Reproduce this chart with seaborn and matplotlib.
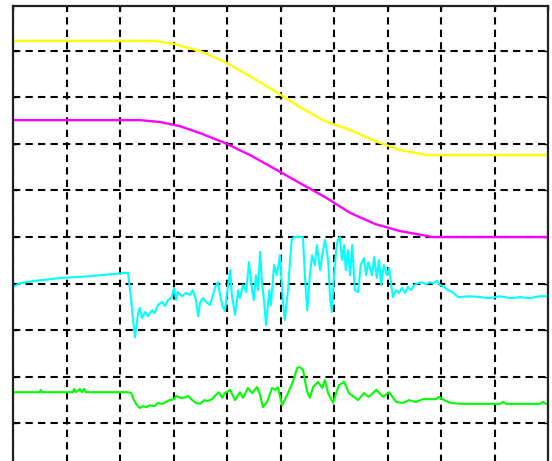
import numpy as np
import pandas as pd
import matplotlib
matplotlib.use("Agg")
import matplotlib.pyplot as plt
import seaborn as sns

# readings in screen divisions (x: 0..10, y: -5..5)
yellow_x = [0, 2.65, 3.03, 3.50, 3.96, 4.43, 4.90, 5.36, 5.83, 6.30, 6.77, 7.23, 7.74, 10.0]
yellow_y = [4.21, 4.21, 4.14, 3.99, 3.76, 3.45, 3.13, 2.79, 2.49, 2.30, 2.06, 1.87, 1.76, 1.76]

magenta_x = [0, 2.37, 2.75, 3.12, 3.50, 3.96, 4.43, 4.90, 5.36, 5.83, 6.30, 6.77, 7.23, 7.85, 10.0]
magenta_y = [2.51, 2.51, 2.47, 2.38, 2.23, 2.02, 1.76, 1.46, 1.16, 0.86, 0.52, 0.28, 0.13, 0.0, 0.0]

cyan_x = [0, 0.13, 0.41, 0.88, 1.44, 2.09, 2.15, 2.21, 2.24, 2.28, 2.34, 2.37, 2.41, 2.47,
          2.52, 2.60, 2.65, 2.71, 2.79, 2.84, 2.90, 2.97, 3.01, 3.05, 3.08, 3.16, 3.23, 3.31,
          3.36, 3.42, 3.46, 3.50, 3.55, 3.61, 3.68, 3.74, 3.78, 3.83, 3.87, 3.91, 3.96, 4.02,
          4.06, 4.09, 4.15, 4.21, 4.24, 4.30, 4.36, 4.41, 4.47, 4.50, 4.54, 4.58, 4.62, 4.65,
          4.69, 4.73, 4.79, 4.82, 4.88, 4.93, 4.99, 5.05, 5.08, 5.14, 5.18, 5.21, 5.25, 5.42,
          5.46, 5.50, 5.55, 5.59, 5.64, 5.68, 5.74, 5.78, 5.83, 5.89, 5.93, 5.96, 6.00, 6.04,
          6.07, 6.11, 6.15, 6.19, 6.22, 6.26, 6.30, 6.34, 6.39, 6.45, 6.50, 6.56, 6.60, 6.64,
          6.71, 6.75, 6.80, 6.84, 6.88, 6.93, 6.99, 7.03, 7.07, 7.10, 7.16, 7.21, 7.27, 7.33,
          7.38, 7.44, 7.50, 7.57, 7.64, 7.72, 7.79, 7.85, 7.93, 7.98, 8.06, 8.13, 8.21, 8.32,
          8.54, 8.92, 9.10, 9.29, 9.48, 9.66, 9.85, 10.0]
cyan_y = [-1.07, -0.99, -0.94, -0.88, -0.84, -0.77, -0.77, -1.35, -1.74, -2.15, -1.61, -1.52,
          -1.74, -1.61, -1.70, -1.57, -1.63, -1.46, -1.39, -1.48, -1.35, -1.29, -1.09, -1.35,
          -1.18, -1.27, -1.20, -1.24, -1.14, -1.35, -1.70, -1.39, -1.31, -1.39, -1.46, -1.24,
          -1.07, -0.97, -1.24, -1.46, -1.59, -1.03, -0.71, -1.24, -1.67, -1.14, -1.31, -1.03,
          -1.18, -0.54, -1.14, -1.35, -0.82, -1.14, -0.32, -0.92, -1.35, -1.89, -1.14, -1.46,
          -0.60, -0.82, -0.39, -1.46, -1.78, -1.14, -0.49, -0.06, 0.00, 0.00, -0.92, -1.57,
          -0.82, -0.39, -0.60, -0.17, -0.71, -0.39, -0.06, -0.49, -1.35, -1.61, -0.82, -0.28,
          -0.06, 0.00, -0.49, -0.17, -0.71, -0.28, -0.82, -0.17, -1.14, -1.18, -0.60, -0.45,
          -0.82, -0.54, -0.82, -0.43, -0.88, -0.49, -1.03, -0.60, -0.82, -0.67, -1.03, -1.29,
          -1.14, -1.20, -1.09, -1.20, -1.07, -1.14, -1.03, -0.99, -0.97, -1.01, -0.97, -0.99,
          -0.94, -1.03, -1.07, -1.14, -1.18, -1.29, -1.27, -1.31, -1.27, -1.31, -1.29, -1.31,
          -1.27, -1.27]

green_x = [0, 0.50, 0.52, 0.54, 1.12, 1.14, 1.18, 1.25, 1.29, 1.33, 1.36, 2.15, 2.21, 2.26,
           2.32, 2.37, 2.43, 2.49, 2.56, 2.64, 2.71, 2.79, 2.86, 2.93, 3.01, 3.05, 3.12, 3.20,
           3.27, 3.35, 3.42, 3.50, 3.57, 3.64, 3.72, 3.79, 3.85, 3.91, 3.96, 4.06, 4.15, 4.24,
           4.30, 4.39, 4.47, 4.56, 4.62, 4.67, 4.75, 4.84, 4.90, 4.95, 5.03, 5.14, 5.23, 5.31,
           5.36, 5.42, 5.50, 5.55, 5.61, 5.70, 5.78, 5.83, 5.89, 5.98, 6.09, 6.19, 6.28, 6.45,
           6.56, 6.65, 6.79, 6.92, 7.03, 7.16, 7.29, 7.40, 7.53, 7.66, 7.91, 7.96, 8.09, 8.19,
           8.36, 9.10, 9.16, 9.21, 9.85, 9.91, 9.96, 10.0]
green_y = [-3.33, -3.33, -3.28, -3.33, -3.33, -3.26, -3.33, -3.26, -3.33, -3.26, -3.33, -3.33,
           -3.35, -3.50, -3.61, -3.67, -3.63, -3.65, -3.61, -3.63, -3.56, -3.58, -3.54, -3.50,
           -3.48, -3.41, -3.45, -3.45, -3.41, -3.50, -3.56, -3.58, -3.50, -3.52, -3.48, -3.39,
           -3.33, -3.45, -3.35, -3.28, -3.50, -3.33, -3.45, -3.24, -3.35, -3.22, -3.39, -3.65,
           -3.54, -3.24, -3.28, -3.22, -3.61, -3.35, -3.11, -2.81, -2.79, -2.85, -3.33, -3.45,
           -3.22, -3.11, -3.24, -3.07, -3.35, -3.56, -3.18, -3.11, -3.35, -3.50, -3.35, -3.43,
           -3.28, -3.43, -3.33, -3.54, -3.56, -3.50, -3.54, -3.48, -3.48, -3.43, -3.52, -3.56,
           -3.58, -3.58, -3.54, -3.58, -3.58, -3.54, -3.58, -3.58]

sns.set_style("white")

fig = plt.figure(figsize=(5.52, 4.61), dpi=100)
# axes runs a little past the bottom edge of the picture, like the screenshot
ax = fig.add_axes([13 / 552, -9 / 461, 535 / 552, 464 / 461])

sns.lineplot(x=yellow_x, y=yellow_y, color="#ffff00", lw=1.7, sort=False, estimator=None, ax=ax)
sns.lineplot(x=magenta_x, y=magenta_y, color="#ff00ff", lw=1.7, sort=False, estimator=None, ax=ax)
sns.lineplot(x=cyan_x, y=cyan_y, color="#00ffff", lw=1.5, sort=False, estimator=None, ax=ax)
sns.lineplot(x=green_x, y=green_y, color="#00ff00", lw=1.5, sort=False, estimator=None, ax=ax)

ax.set_xlim(0, 10)
ax.set_ylim(-5, 4.96)
ax.set_xticks(np.arange(0, 11, 1))
ax.set_yticks(np.arange(-5, 5, 1))
ax.set_xticklabels([])
ax.set_yticklabels([])
ax.set(xlabel="", ylabel="")
ax.tick_params(direction="in", length=3, width=1, colors="black",
               top=True, right=True, bottom=True, left=True)
ax.grid(True, color="black", linestyle=(0, (3.5, 2.5)), linewidth=1.5)
ax.set_axisbelow(True)
for s in ax.spines.values():
    s.set_visible(True)
    s.set_color("#222222")
    s.set_linewidth(1.6)

fig.savefig("out.png", dpi=100)
